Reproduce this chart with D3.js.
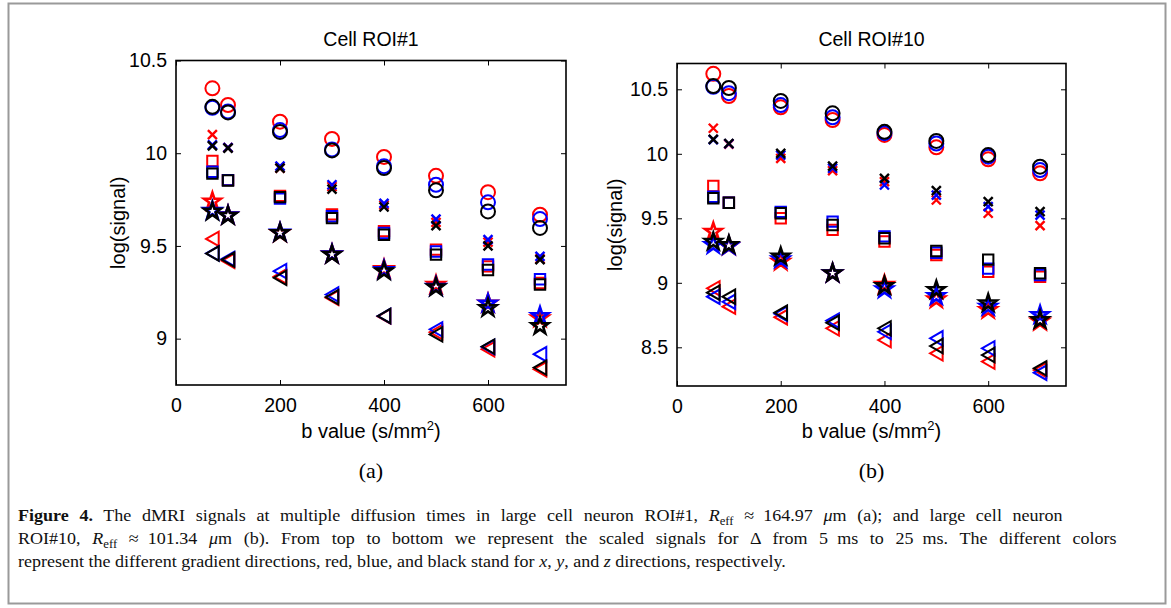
<!DOCTYPE html>
<html>
<head>
<meta charset="utf-8">
<script src="https://cdn.jsdelivr.net/npm/d3@7"></script>
<style>
body { margin: 0; background: #fff; }
text { font-family: Arial, "Liberation Sans", sans-serif; }
.cap { font-family: "Liberation Serif", "Times New Roman", serif; }
</style>
</head>
<body>
<script>
// b values (s/mm^2), shared by both panels
var bValues = [70, 100, 200, 300, 400, 500, 600, 700];

// ROI#1, one array per diffusion time, rows = x, y, z gradient direction
var roi1_d5  = [[10.35, 10.26, 10.17, 10.077, 9.98, 9.878, 9.79, 9.668],
                [10.245, 10.225, 10.125, 10.02, 9.93, 9.83, 9.735, 9.645],
                [10.25, 10.22, 10.115, 10.015, 9.92, 9.80, 9.686, 9.597]];
var roi1_d10 = [[10.10, 10.03, 9.92, 9.82, 9.72, 9.627, 9.52, 9.43],
                [10.045, 10.03, 9.93, 9.83, 9.73, 9.645, 9.534, 9.444],
                [10.04, 10.027, 9.92, 9.806, 9.71, 9.61, 9.50, 9.426]];
var roi1_d15 = [[9.958, 9.855, 9.77, 9.67, 9.58, 9.48, 9.39, 9.30],
                [9.90, 9.855, 9.755, 9.66, 9.57, 9.47, 9.40, 9.32],
                [9.89, 9.853, 9.763, 9.65, 9.56, 9.453, 9.37, 9.292]];
var roi1_d20 = [[9.74, 9.665, 9.57, 9.455, 9.375, 9.29, 9.19, 9.11],
                [9.69, 9.665, 9.572, 9.455, 9.37, 9.28, 9.19, 9.122],
                [9.686, 9.663, 9.57, 9.453, 9.364, 9.277, 9.165, 9.068]];
var roi1_d25 = [[9.538, 9.42, 9.335, 9.22, 9.12, 9.035, 8.943, 8.835],
                [9.46, 9.43, 9.364, 9.238, 9.122, 9.05, 8.955, 8.916],
                [9.459, 9.426, 9.328, 9.224, 9.122, 9.023, 8.957, 8.844]];

// ROI#10
var roi10_d5  = [[10.62, 10.448, 10.36, 10.262, 10.146, 10.05, 9.957, 9.849],
                 [10.52, 10.47, 10.378, 10.283, 10.16, 10.08, 9.978, 9.874],
                 [10.525, 10.51, 10.41, 10.314, 10.17, 10.10, 9.99, 9.90]];
var roi10_d10 = [[10.198, 10.075, 9.965, 9.87, 9.784, 9.642, 9.539, 9.443],
                 [10.11, 10.078, 9.99, 9.888, 9.758, 9.68, 9.59, 9.525],
                 [10.112, 10.08, 10.004, 9.905, 9.81, 9.714, 9.63, 9.551]];
var roi10_d15 = [[9.75, 9.62, 9.5, 9.41, 9.32, 9.215, 9.086, 9.047],
                 [9.667, 9.62, 9.55, 9.474, 9.36, 9.233, 9.11, 9.06],
                 [9.655, 9.621, 9.539, 9.448, 9.345, 9.246, 9.18, 9.074]];
var roi10_d20 = [[9.396, 9.285, 9.164, 9.074, 8.985, 8.872, 8.79, 8.70],
                 [9.293, 9.285, 9.182, 9.074, 8.95, 8.898, 8.815, 8.75],
                 [9.319, 9.293, 9.203, 9.074, 8.975, 8.944, 8.841, 8.712]];
var roi10_d25 = [[8.957, 8.815, 8.733, 8.647, 8.556, 8.453, 8.389, 8.324],
                 [8.892, 8.853, 8.76, 8.706, 8.62, 8.57, 8.492, 8.303],
                 [8.923, 8.892, 8.768, 8.69, 8.647, 8.51, 8.44, 8.337]];

var xTicks = [0, 200, 400, 600];
var yTicks1 = [9, 9.5, 10, 10.5];
var yTicks10 = [8.5, 9, 9.5, 10, 10.5];
var dirColors = ["#ff0000", "#0000ff", "#000000"];
var markers = ["circle", "cross", "square", "star", "triangle"];

var svg = d3.select("body").append("svg")
    .attr("width", 1171)
    .attr("height", 608);

// grey frame round the whole figure
svg.append("rect")
    .attr("x", 8.5).attr("y", 3.5)
    .attr("width", 1157).attr("height", 600)
    .attr("fill", "none")
    .attr("stroke", "#9a9a9a")
    .attr("stroke-width", 2);

// marker path for each symbol type, centred on 0,0
function markerPath(type) {
    var p = d3.path();
    if (type == "circle") {
        p.moveTo(7, 0); p.arc(0, 0, 7, 0, 2 * Math.PI);
    } else if (type == "cross") {
        p.moveTo(-4.5, -4.5); p.lineTo(4.5, 4.5);
        p.moveTo(4.5, -4.5); p.lineTo(-4.5, 4.5);
    } else if (type == "square") {
        p.rect(-5.2, -5.2, 10.4, 10.4);
    } else if (type == "star") {
        for (var i = 0; i < 10; i++) {
            var r = i % 2 == 0 ? 8.8 : 3.4;
            var a = -Math.PI / 2 + i * Math.PI / 5;
            if (i == 0) p.moveTo(r * Math.cos(a), r * Math.sin(a));
            else p.lineTo(r * Math.cos(a), r * Math.sin(a));
        }
        p.closePath();
    } else if (type == "triangle") {
        p.moveTo(-6.3, 0); p.lineTo(6.3, -7.2); p.lineTo(6.3, 7.2); p.closePath();
    }
    return p.toString();
}

function panel(opt) {
    var g = svg.append("g");
    var x = d3.scaleLinear().domain([0, 750]).range([opt.left, opt.right]);
    var y = d3.scaleLinear().domain(opt.yDomain).range([opt.bottom, opt.top]);

    // box
    g.append("rect")
        .attr("x", opt.left).attr("y", opt.top)
        .attr("width", opt.right - opt.left).attr("height", opt.bottom - opt.top)
        .attr("fill", "none").attr("stroke", "#000").attr("stroke-width", 1.6);

    // axes with inward ticks on all four sides
    g.append("g").attr("transform", "translate(0," + opt.bottom + ")")
        .call(d3.axisBottom(x).tickValues(xTicks).tickSizeInner(-5).tickSizeOuter(0).tickPadding(13));
    g.append("g").attr("transform", "translate(0," + opt.top + ")")
        .call(d3.axisTop(x).tickValues(xTicks).tickSizeInner(-5).tickSizeOuter(0).tickFormat(""));
    g.append("g").attr("transform", "translate(" + opt.left + ",0)")
        .call(d3.axisLeft(y).tickValues(opt.yTicks).tickSizeInner(-5).tickSizeOuter(0).tickPadding(9).tickFormat(d3.format("")));
    g.append("g").attr("transform", "translate(" + opt.right + ",0)")
        .call(d3.axisRight(y).tickValues(opt.yTicks).tickSizeInner(-5).tickSizeOuter(0).tickFormat(""));
    g.selectAll(".domain").remove();
    g.selectAll(".tick line").attr("stroke", "#000").attr("stroke-width", 1);
    g.selectAll(".tick text").attr("font-size", 19.5).attr("fill", "#000")
        .attr("font-family", "Arial, 'Liberation Sans', sans-serif");

    // markers: red, blue then black on top
    opt.series.forEach(function(s, si) {
        s.forEach(function(vals, di) {
            g.selectAll(null).data(vals).enter()
                .append("path")
                .attr("d", markerPath(markers[si]))
                .attr("transform", function(d, i) { return "translate(" + x(bValues[i]) + "," + y(d) + ")"; })
                .attr("fill", "none")
                .attr("stroke", dirColors[di])
                .attr("stroke-linejoin", "miter")
                .attr("stroke-width", markers[si] == "cross" ? 2.4 : (markers[si] == "star" ? 2.6 : 2));
        });
    });

    var cx = (opt.left + opt.right) / 2;
    g.append("text").text(opt.title)
        .attr("x", cx).attr("y", 46)
        .attr("text-anchor", "middle").attr("font-size", 19.5);

    var xl = g.append("text")
        .attr("x", cx).attr("y", 438)
        .attr("text-anchor", "middle").attr("font-size", 20);
    xl.append("tspan").text("b value (s/mm");
    xl.append("tspan").text("2").attr("font-size", 13).attr("dy", -8);
    xl.append("tspan").text(")").attr("dy", 8);

    g.append("text").text("log(signal)")
        .attr("transform", "translate(" + opt.yLabelX + "," + ((opt.top + opt.bottom) / 2) + ") rotate(-90)")
        .attr("text-anchor", "middle").attr("font-size", 20);

    g.append("text").text(opt.sub).attr("class", "cap")
        .attr("x", cx).attr("y", 478)
        .attr("text-anchor", "middle").attr("font-size", 22);
}

panel({left: 176, right: 566, top: 60.5, bottom: 385, yDomain: [8.75, 10.5], yTicks: yTicks1,
       series: [roi1_d5, roi1_d10, roi1_d15, roi1_d20, roi1_d25],
       title: "Cell ROI#1", sub: "(a)", yLabelX: 125});
panel({left: 677, right: 1066, top: 63.5, bottom: 386, yDomain: [8.2, 10.7], yTicks: yTicks10,
       series: [roi10_d5, roi10_d10, roi10_d15, roi10_d20, roi10_d25],
       title: "Cell ROI#10", sub: "(b)", yLabelX: 622});

// caption: justified lines, last line ragged; all share one horizontal squeeze
var capLines = [
    {y: 521, w: 1045, justify: true, parts: [["Figure 4.", "b"], [" The dMRI signals at multiple diffusion times in large cell neuron ROI#1, "], ["R", "i"], ["eff", "sub"],
        [" \u2248\u2002164.97 "], ["\u03bc", "i"], ["m (a); and large cell neuron"]]},
    {y: 544, w: 1099, justify: true, parts: [["ROI#10, "], ["R", "i"], ["eff", "sub"], [" \u2248\u2002101.34 "], ["\u03bc", "i"],
        ["m (b). From top to bottom we represent the scaled signals for \u0394 from 5\u2002ms to 25\u2002ms. The different colors"]]},
    {y: 567, w: 768, justify: false, parts: [["represent the different gradient directions, red, blue, and black stand for "], ["x", "i"], [", "], ["y", "i"],
        [", and "], ["z", "i"], [" directions, respectively."]]}
];

var capTexts = capLines.map(function(line) {
    var t = svg.append("text").attr("class", "cap").attr("font-size", 17).attr("fill", "#111");
    var shifted = false;
    line.parts.forEach(function(p) {
        var ts = t.append("tspan").text(p[0]);
        if (p[1] == "b") ts.attr("font-weight", "bold");
        if (p[1] == "i") ts.attr("font-style", "italic");
        if (p[1] == "sub") { ts.attr("font-size", 12).attr("dy", 4); shifted = true; }
        else if (shifted) { ts.attr("dy", -4); shifted = false; }
    });
    return t;
});

// squeeze factor from the last (unjustified) line
var last = capLines.length - 1;
var sx = capLines[last].w / capTexts[last].node().getComputedTextLength();

capLines.forEach(function(line, i) {
    var t = capTexts[i];
    if (line.justify) {
        var natural = t.node().getComputedTextLength();
        var txt = line.parts.map(function(p) { return p[0]; }).join("");
        var spaces = (txt.match(/ /g) || []).length;
        t.attr("word-spacing", Math.max(0, (line.w / sx - natural) / spaces));
    }
    t.attr("transform", "translate(18," + line.y + ") scale(" + sx + ",1)");
});
</script>
</body>
</html>
